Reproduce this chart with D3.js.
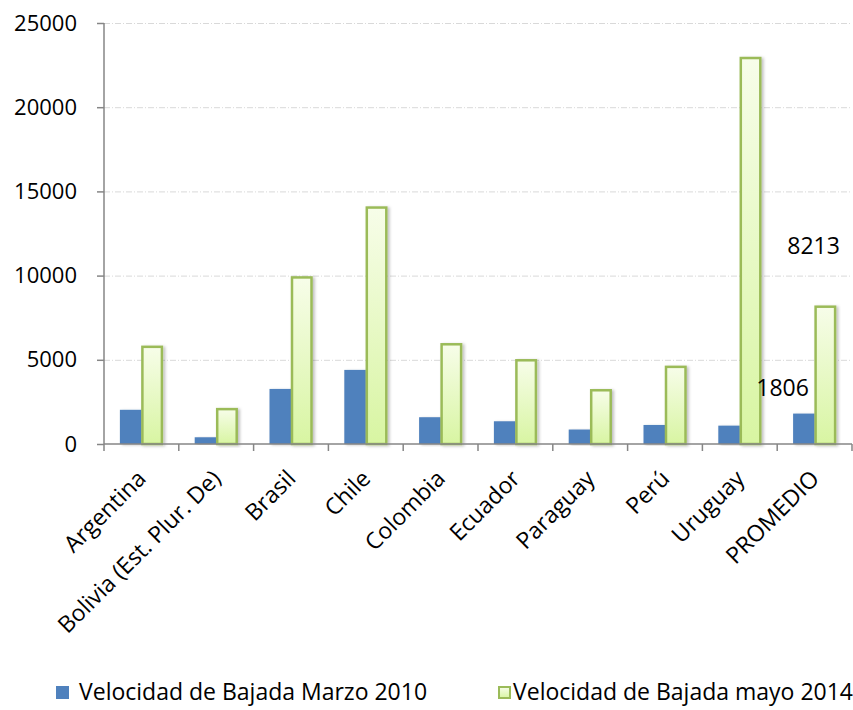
<!DOCTYPE html>
<html><head><meta charset="utf-8">
<script src="https://cdn.jsdelivr.net/npm/d3@7"></script>
<style>body{margin:0;background:#fff}svg{display:block}text{font-family:"Open Sans",Lato,sans-serif}</style>
</head><body><svg id="c" width="853" height="710"></svg>
<script>
const categories = ["Argentina","Bolivia (Est. Plur. De)","Brasil","Chile","Colombia","Ecuador","Paraguay","Perú","Uruguay","PROMEDIO"];
const marzo2010 = [2030, 400, 3270, 4400, 1590, 1350, 860, 1130, 1090, 1806];
const mayo2014 = [5830, 2130, 9950, 14100, 5980, 5030, 3250, 4640, 22980, 8213];
const seriesNames = ["Velocidad de Bajada Marzo 2010","Velocidad de Bajada mayo 2014"];
const yTicks = [0,5000,10000,15000,20000,25000];
const avgLabels = ["8213","1806"];

const svg = d3.select("#c");
const L = 104, R = 852, T = 23, B = 444;
const x = d3.scaleBand().domain(categories).range([L,R]).paddingInner(0).paddingOuter(0);
const y = d3.scaleLinear().domain([0,25000]).range([B,T]);
const bw = 21.5;

const defs = svg.append("defs");
const g = defs.append("linearGradient").attr("id","gr").attr("x1",0).attr("y1",0).attr("x2",0).attr("y2",1);
g.append("stop").attr("offset","0%").attr("stop-color","#f7fde9");
g.append("stop").attr("offset","100%").attr("stop-color","#d8f5a2");
const f = defs.append("filter").attr("id","sh").attr("x","-30%").attr("y","-10%").attr("width","160%").attr("height","120%");
f.append("feDropShadow").attr("dx",2).attr("dy",1).attr("stdDeviation",1.5).attr("flood-color","#000").attr("flood-opacity",0.25);

// gridlines
svg.append("g").selectAll("line").data(yTicks.filter(d=>d>0)).join("line")
  .attr("x1",L).attr("x2",R).attr("y1",d=>y(d)+0.5).attr("y2",d=>y(d)+0.5)
  .attr("stroke","#d9d9d9").attr("stroke-width",1).attr("stroke-dasharray","6,2,1,2");

// bars
const cg = svg.append("g").selectAll("g").data(categories).join("g");
cg.append("rect").attr("x",d=>x(d)+x.bandwidth()/2-bw).attr("width",bw)
  .attr("y",(d,i)=>y(marzo2010[i])).attr("height",(d,i)=>B-y(marzo2010[i]))
  .attr("fill","#4f81bd").attr("filter","url(#sh)");
cg.append("rect").attr("x",d=>x(d)+x.bandwidth()/2+1).attr("width",bw-2)
  .attr("y",(d,i)=>y(mayo2014[i])+1).attr("height",(d,i)=>B-y(mayo2014[i])-1)
  .attr("fill","url(#gr)").attr("stroke","#9bbb59").attr("stroke-width",2.5).attr("filter","url(#sh)");

// axes
const ya = svg.append("g").attr("transform",`translate(${L},0)`)
  .call(d3.axisLeft(y).tickValues(yTicks).tickSize(7).tickPadding(20).tickFormat(d3.format("d")));
ya.select(".domain").attr("stroke","#868686").attr("stroke-width",1.5).attr("d",`M0,${T}V${B}`);
ya.selectAll(".tick line").attr("stroke","#868686").attr("stroke-width",1.5);
ya.selectAll("text").attr("font-size",22).attr("fill","#000").attr("font-family","Open Sans");

const xa = svg.append("g").attr("transform",`translate(0,${B})`)
  .call(d3.axisBottom(x).tickSize(0).tickFormat(""));
xa.select(".domain").attr("stroke","#868686").attr("stroke-width",1.5).attr("d",`M${L},0H${R}`);
xa.selectAll(".tick").remove();
svg.append("g").selectAll("line").data(d3.range(categories.length+1)).join("line")
  .attr("x1",i=>L+i*x.step()).attr("x2",i=>L+i*x.step()).attr("y1",B).attr("y2",B+7)
  .attr("stroke","#868686").attr("stroke-width",1.5);

svg.append("g").selectAll("text").data(categories).join("text")
  .attr("transform",d=>`translate(${x(d)+x.bandwidth()/2+6},${B+36}) rotate(-45)`)
  .attr("text-anchor","end").attr("font-size",23).attr("fill","#000").text(d=>d);

// data labels for PROMEDIO
const pc = categories[categories.length-1];
svg.append("text").attr("x",x(pc)+x.bandwidth()/2-1).attr("y",y(mayo2014[9])-52)
  .attr("text-anchor","middle").attr("font-size",23).text(avgLabels[0]);
svg.append("text").attr("x",x(pc)+x.bandwidth()/2-32).attr("y",y(marzo2010[9])-18)
  .attr("text-anchor","middle").attr("font-size",23).text(avgLabels[1]);

// legend
const lg = svg.append("g");
lg.append("rect").attr("x",56).attr("y",686).attr("width",13).attr("height",13).attr("fill","#4f81bd");
lg.append("text").attr("x",79).attr("y",700).attr("font-size",23).text(seriesNames[0]);
lg.append("rect").attr("x",499).attr("y",687).attr("width",11).attr("height",11).attr("fill","url(#gr)").attr("stroke","#9bbb59").attr("stroke-width",2);
lg.append("text").attr("x",513).attr("y",700).attr("font-size",23).text(seriesNames[1]);
</script></body></html>
